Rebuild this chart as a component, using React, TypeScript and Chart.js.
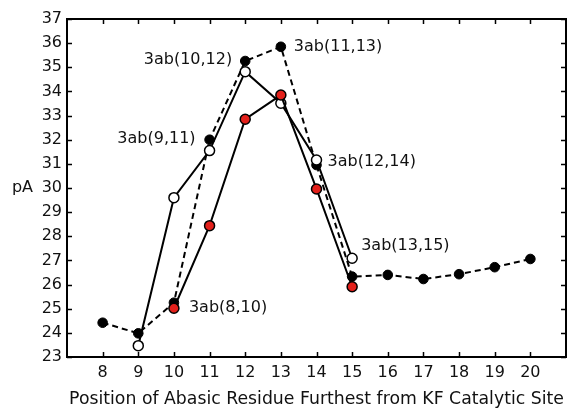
import React, { useEffect, useRef } from 'react';
import { Chart, registerables } from 'chart.js';

Chart.register(...registerables);

// Position of abasic residue (x) and current in pA (y)
const positionsA = [8, 9, 10, 11, 12, 13, 14, 15, 16, 17, 18, 19, 20];
const currentA = [24.42, 23.98, 25.25, 32.0, 35.26, 35.85, 30.95, 26.33, 26.4, 26.23, 26.43, 26.72, 27.06];

const positionsB = [9, 10, 11, 12, 13, 14, 15];
const currentB = [23.47, 29.6, 31.55, 34.82, 33.51, 31.16, 27.09];

const positionsC = [10, 11, 12, 13, 14, 15];
const currentC = [25.02, 28.44, 32.85, 33.85, 29.96, 25.91];

const xTicks = [8, 9, 10, 11, 12, 13, 14, 15, 16, 17, 18, 19, 20];
const yTicks = [23, 24, 25, 26, 27, 28, 29, 30, 31, 32, 33, 34, 35, 36, 37];

// Point annotations: label text, series it belongs to, and x position
const annotationLabels = ['3ab(8,10)', '3ab(9,11)', '3ab(10,12)', '3ab(11,13)', '3ab(12,14)', '3ab(13,15)'];
const annotationSeries = ['C', 'A', 'A', 'A', 'B', 'B'];
const annotationPositions = [10, 11, 12, 13, 14, 15];

const yTitle = 'pA';
const xTitle = 'Position of Abasic Residue Furthest from KF Catalytic Site';

const FONT = 'DejaVu Sans';

export default function App() {
  const canvasRef = useRef<HTMLCanvasElement | null>(null);

  useEffect(() => {
    document.body.style.margin = '0';
    const canvas = canvasRef.current;
    if (!canvas) return;

    const toPoints = (xs: number[], ys: number[]) => xs.map((x, i) => ({ x, y: ys[i] }));
    const seriesMap: Record<string, { xs: number[]; ys: number[] }> = {
      A: { xs: positionsA, ys: currentA },
      B: { xs: positionsB, ys: currentB },
      C: { xs: positionsC, ys: currentC },
    };

    // offsets of each annotation relative to its point: [dx, dy, align]
    const annotationOffsets: [number, number, CanvasTextAlign][] = [
      [15, 0, 'left'],
      [-14, -1, 'right'],
      [-13, -1, 'right'],
      [13, 0, 'left'],
      [11, 2, 'left'],
      [9, -12, 'left'],
    ];

    const framePlugin = {
      id: 'frame',
      afterDraw(chart: any) {
        const { ctx, chartArea } = chart;
        const xs = chart.scales.x;
        const ys = chart.scales.y;
        const { left, right, top, bottom } = chartArea;
        ctx.save();
        ctx.strokeStyle = '#000';
        // inward ticks
        ctx.lineWidth = 1.5;
        ctx.beginPath();
        xTicks.forEach((v) => {
          const px = Math.round(xs.getPixelForValue(v)) + 0.5;
          ctx.moveTo(px, bottom);
          ctx.lineTo(px, bottom - 5);
          ctx.moveTo(px, top);
          ctx.lineTo(px, top + 5);
        });
        yTicks.forEach((v) => {
          const py = Math.round(ys.getPixelForValue(v)) + 0.5;
          ctx.moveTo(left, py);
          ctx.lineTo(left + 5, py);
          ctx.moveTo(right, py);
          ctx.lineTo(right - 5, py);
        });
        ctx.stroke();
        // frame
        ctx.lineWidth = 2;
        ctx.strokeRect(left, top, right - left, bottom - top);

        // annotations
        ctx.fillStyle = '#111';
        ctx.font = `16px "${FONT}"`;
        ctx.textBaseline = 'middle';
        annotationLabels.forEach((label, i) => {
          const s = seriesMap[annotationSeries[i]];
          const idx = s.xs.indexOf(annotationPositions[i]);
          const px = xs.getPixelForValue(s.xs[idx]);
          const py = ys.getPixelForValue(s.ys[idx]);
          const [dx, dy, align] = annotationOffsets[i];
          ctx.textAlign = align;
          ctx.fillText(label, px + dx, py + dy);
        });

        // axis titles
        ctx.font = `16px "${FONT}"`;
        ctx.textAlign = 'center';
        ctx.fillText(yTitle, left - 44.5, (top + bottom) / 2);
        ctx.font = `17.3px "${FONT}"`;
        ctx.fillText(xTitle, (left + right) / 2, bottom + 43);
        ctx.restore();
      },
    };

    const chart = new Chart(canvas, {
      type: 'line',
      data: {
        datasets: [
          {
            label: 'C',
            data: toPoints(positionsC, currentC),
            borderColor: '#000',
            borderWidth: 2,
            pointRadius: 5,
            pointBackgroundColor: '#e3201b',
            pointBorderColor: '#000',
            pointBorderWidth: 1.5,
            tension: 0,
          },
          {
            label: 'B',
            data: toPoints(positionsB, currentB),
            borderColor: '#000',
            borderWidth: 2,
            pointRadius: 5,
            pointBackgroundColor: '#fff',
            pointBorderColor: '#000',
            pointBorderWidth: 1.5,
            tension: 0,
          },
          {
            label: 'A',
            data: toPoints(positionsA, currentA),
            borderColor: '#000',
            borderWidth: 2,
            borderDash: [6, 4],
            pointRadius: 4.8,
            pointBackgroundColor: '#000',
            pointBorderColor: '#000',
            pointBorderWidth: 1,
            tension: 0,
          },
        ],
      },
      options: {
        responsive: false,
        animation: false,
        events: [],
        layout: { autoPadding: false, padding: { top: 19, right: 2, left: 0, bottom: 0 } },
        plugins: {
          legend: { display: false },
          tooltip: { enabled: false },
        },
        scales: {
          x: {
            type: 'linear',
            min: 7,
            max: 21,
            afterFit: (scale: any) => {
              scale.height = 52;
              scale.paddingLeft = 0;
              scale.paddingRight = 0;
            },
            afterBuildTicks: (scale: any) => {
              scale.ticks = [7, ...xTicks, 21].map((v) => ({ value: v }));
            },
            ticks: {
              autoSkip: false,
              maxRotation: 0,
              padding: 6,
              color: '#111',
              font: { family: FONT, size: 16 },
              callback: (v: any) => (xTicks.includes(Number(v)) ? String(v) : ''),
            },
            grid: { display: false, drawTicks: false, tickLength: 0 },
            border: { display: false },
          },
          y: {
            type: 'linear',
            min: 23,
            max: 37,
            afterFit: (scale: any) => {
              scale.width = 67;
              scale.paddingTop = 0;
              scale.paddingBottom = 0;
            },
            afterBuildTicks: (scale: any) => {
              scale.ticks = yTicks.map((v) => ({ value: v }));
            },
            ticks: {
              padding: 5,
              color: '#111',
              font: { family: FONT, size: 16 },
            },
            grid: { display: false, drawTicks: false, tickLength: 0 },
            border: { display: false },
          },
        },
      },
      plugins: [framePlugin],
    });

    return () => chart.destroy();
  }, []);

  return (
    <div style={{ position: 'fixed', left: 0, top: 0, width: 568, height: 409, background: '#fff' }}>
      <canvas ref={canvasRef} width={568} height={409} />
    </div>
  );
}
